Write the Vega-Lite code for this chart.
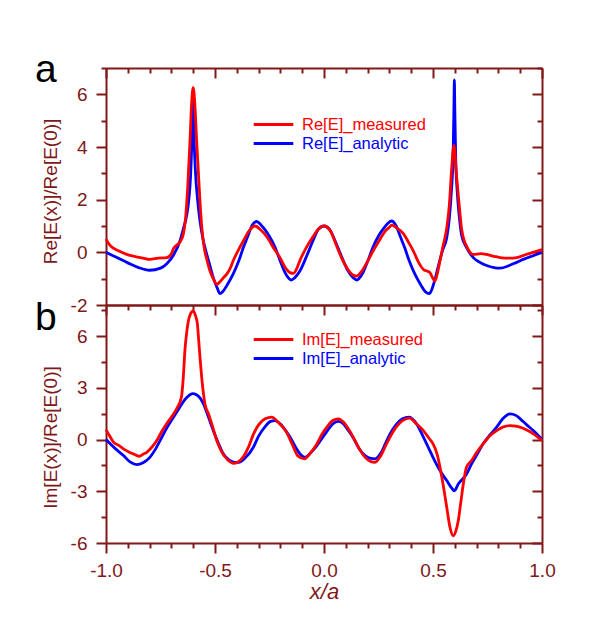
{
  "$schema": "https://vega.github.io/schema/vega-lite/v6.json",
  "description": "Re and Im of E(x)/Re[E(0)], measured vs analytic",
  "padding": {"left": 35, "top": 51, "right": 5, "bottom": 5},
  "spacing": 0,
  "bounds": "flush",
  "config": {
    "font": "Liberation Sans",
    "view": {"stroke": null},
    "axis": {
      "domainColor": "#801818",
      "domainWidth": 2,
      "tickColor": "#801818",
      "tickWidth": 2,
      "labelColor": "#801818",
      "titleColor": "#801818",
      "labelFontSize": 19,
      "titleFontSize": 19,
      "titleFontWeight": "normal",
      "grid": false,
      "labelOverlap": false,
      "labelFlush": false,
      "labelBound": false
    },
    "legend": {
      "orient": "none",
      "symbolType": "M-2.2,0H2.2",
      "symbolSize": 324,
      "symbolStrokeWidth": 2.8,
      "labelFontSize": 16.5,
      "labelOffset": 18,
      "rowPadding": 0,
      "padding": 0
    }
  },
  "datasets": {
    "re": [
      {"x": -1.0, "y": 0.0, "s": "Re[E]_analytic"},
      {"x": -0.95, "y": -0.2, "s": "Re[E]_analytic"},
      {"x": -0.9, "y": -0.4, "s": "Re[E]_analytic"},
      {"x": -0.85, "y": -0.58, "s": "Re[E]_analytic"},
      {"x": -0.8, "y": -0.68, "s": "Re[E]_analytic"},
      {"x": -0.75, "y": -0.6, "s": "Re[E]_analytic"},
      {"x": -0.72, "y": -0.42, "s": "Re[E]_analytic"},
      {"x": -0.69, "y": -0.1, "s": "Re[E]_analytic"},
      {"x": -0.66, "y": 0.45, "s": "Re[E]_analytic"},
      {"x": -0.645, "y": 0.9, "s": "Re[E]_analytic"},
      {"x": -0.63, "y": 1.4, "s": "Re[E]_analytic"},
      {"x": -0.62, "y": 2.0, "s": "Re[E]_analytic"},
      {"x": -0.612, "y": 2.9, "s": "Re[E]_analytic"},
      {"x": -0.606, "y": 4.3, "s": "Re[E]_analytic"},
      {"x": -0.601, "y": 6.1, "s": "Re[E]_analytic"},
      {"x": -0.596, "y": 4.3, "s": "Re[E]_analytic"},
      {"x": -0.59, "y": 3.1, "s": "Re[E]_analytic"},
      {"x": -0.58, "y": 2.0, "s": "Re[E]_analytic"},
      {"x": -0.569, "y": 1.2, "s": "Re[E]_analytic"},
      {"x": -0.555, "y": 0.5, "s": "Re[E]_analytic"},
      {"x": -0.545, "y": 0.15, "s": "Re[E]_analytic"},
      {"x": -0.525, "y": -0.45, "s": "Re[E]_analytic"},
      {"x": -0.508, "y": -0.96, "s": "Re[E]_analytic"},
      {"x": -0.49, "y": -1.35, "s": "Re[E]_analytic"},
      {"x": -0.477, "y": -1.57, "s": "Re[E]_analytic"},
      {"x": -0.465, "y": -1.5, "s": "Re[E]_analytic"},
      {"x": -0.445, "y": -1.25, "s": "Re[E]_analytic"},
      {"x": -0.417, "y": -0.83, "s": "Re[E]_analytic"},
      {"x": -0.39, "y": -0.3, "s": "Re[E]_analytic"},
      {"x": -0.37, "y": 0.18, "s": "Re[E]_analytic"},
      {"x": -0.35, "y": 0.6, "s": "Re[E]_analytic"},
      {"x": -0.33, "y": 1.02, "s": "Re[E]_analytic"},
      {"x": -0.309, "y": 1.17, "s": "Re[E]_analytic"},
      {"x": -0.29, "y": 1.05, "s": "Re[E]_analytic"},
      {"x": -0.27, "y": 0.85, "s": "Re[E]_analytic"},
      {"x": -0.25, "y": 0.6, "s": "Re[E]_analytic"},
      {"x": -0.225, "y": 0.2, "s": "Re[E]_analytic"},
      {"x": -0.2, "y": -0.35, "s": "Re[E]_analytic"},
      {"x": -0.18, "y": -0.75, "s": "Re[E]_analytic"},
      {"x": -0.16, "y": -1.0, "s": "Re[E]_analytic"},
      {"x": -0.15, "y": -1.05, "s": "Re[E]_analytic"},
      {"x": -0.135, "y": -0.97, "s": "Re[E]_analytic"},
      {"x": -0.11, "y": -0.7, "s": "Re[E]_analytic"},
      {"x": -0.08, "y": -0.15, "s": "Re[E]_analytic"},
      {"x": -0.05, "y": 0.45, "s": "Re[E]_analytic"},
      {"x": -0.025, "y": 0.88, "s": "Re[E]_analytic"},
      {"x": 0.0, "y": 1.0, "s": "Re[E]_analytic"},
      {"x": 0.025, "y": 0.88, "s": "Re[E]_analytic"},
      {"x": 0.05, "y": 0.45, "s": "Re[E]_analytic"},
      {"x": 0.08, "y": -0.15, "s": "Re[E]_analytic"},
      {"x": 0.11, "y": -0.7, "s": "Re[E]_analytic"},
      {"x": 0.135, "y": -0.97, "s": "Re[E]_analytic"},
      {"x": 0.15, "y": -1.05, "s": "Re[E]_analytic"},
      {"x": 0.16, "y": -1.0, "s": "Re[E]_analytic"},
      {"x": 0.18, "y": -0.75, "s": "Re[E]_analytic"},
      {"x": 0.2, "y": -0.35, "s": "Re[E]_analytic"},
      {"x": 0.225, "y": 0.2, "s": "Re[E]_analytic"},
      {"x": 0.25, "y": 0.62, "s": "Re[E]_analytic"},
      {"x": 0.27, "y": 0.87, "s": "Re[E]_analytic"},
      {"x": 0.29, "y": 1.08, "s": "Re[E]_analytic"},
      {"x": 0.31, "y": 1.19, "s": "Re[E]_analytic"},
      {"x": 0.33, "y": 1.02, "s": "Re[E]_analytic"},
      {"x": 0.35, "y": 0.6, "s": "Re[E]_analytic"},
      {"x": 0.37, "y": 0.18, "s": "Re[E]_analytic"},
      {"x": 0.39, "y": -0.3, "s": "Re[E]_analytic"},
      {"x": 0.417, "y": -0.83, "s": "Re[E]_analytic"},
      {"x": 0.445, "y": -1.25, "s": "Re[E]_analytic"},
      {"x": 0.465, "y": -1.5, "s": "Re[E]_analytic"},
      {"x": 0.483, "y": -1.57, "s": "Re[E]_analytic"},
      {"x": 0.495, "y": -1.4, "s": "Re[E]_analytic"},
      {"x": 0.51, "y": -1.0, "s": "Re[E]_analytic"},
      {"x": 0.525, "y": -0.5, "s": "Re[E]_analytic"},
      {"x": 0.545, "y": 0.1, "s": "Re[E]_analytic"},
      {"x": 0.563, "y": 0.55, "s": "Re[E]_analytic"},
      {"x": 0.575, "y": 1.3, "s": "Re[E]_analytic"},
      {"x": 0.585, "y": 2.4, "s": "Re[E]_analytic"},
      {"x": 0.592, "y": 3.6, "s": "Re[E]_analytic"},
      {"x": 0.596, "y": 5.5, "s": "Re[E]_analytic"},
      {"x": 0.598, "y": 6.55, "s": "Re[E]_analytic"},
      {"x": 0.6, "y": 5.5, "s": "Re[E]_analytic"},
      {"x": 0.604, "y": 3.6, "s": "Re[E]_analytic"},
      {"x": 0.612, "y": 2.2, "s": "Re[E]_analytic"},
      {"x": 0.62, "y": 1.4, "s": "Re[E]_analytic"},
      {"x": 0.631, "y": 0.66, "s": "Re[E]_analytic"},
      {"x": 0.654, "y": 0.18, "s": "Re[E]_analytic"},
      {"x": 0.685, "y": -0.2, "s": "Re[E]_analytic"},
      {"x": 0.715, "y": -0.38, "s": "Re[E]_analytic"},
      {"x": 0.746, "y": -0.5, "s": "Re[E]_analytic"},
      {"x": 0.78, "y": -0.58, "s": "Re[E]_analytic"},
      {"x": 0.807, "y": -0.6, "s": "Re[E]_analytic"},
      {"x": 0.85, "y": -0.5, "s": "Re[E]_analytic"},
      {"x": 0.884, "y": -0.38, "s": "Re[E]_analytic"},
      {"x": 0.92, "y": -0.25, "s": "Re[E]_analytic"},
      {"x": 0.959, "y": -0.13, "s": "Re[E]_analytic"},
      {"x": 1.0, "y": 0.0, "s": "Re[E]_analytic"},

      {"x": -1.0, "y": 0.5, "s": "Re[E]_measured"},
      {"x": -0.985, "y": 0.3, "s": "Re[E]_measured"},
      {"x": -0.968, "y": 0.17, "s": "Re[E]_measured"},
      {"x": -0.94, "y": 0.05, "s": "Re[E]_measured"},
      {"x": -0.905, "y": -0.08, "s": "Re[E]_measured"},
      {"x": -0.87, "y": -0.15, "s": "Re[E]_measured"},
      {"x": -0.83, "y": -0.22, "s": "Re[E]_measured"},
      {"x": -0.8, "y": -0.27, "s": "Re[E]_measured"},
      {"x": -0.76, "y": -0.22, "s": "Re[E]_measured"},
      {"x": -0.722, "y": -0.2, "s": "Re[E]_measured"},
      {"x": -0.7, "y": -0.05, "s": "Re[E]_measured"},
      {"x": -0.69, "y": 0.15, "s": "Re[E]_measured"},
      {"x": -0.675, "y": 0.28, "s": "Re[E]_measured"},
      {"x": -0.66, "y": 0.4, "s": "Re[E]_measured"},
      {"x": -0.645, "y": 0.7, "s": "Re[E]_measured"},
      {"x": -0.635, "y": 1.3, "s": "Re[E]_measured"},
      {"x": -0.625, "y": 2.5, "s": "Re[E]_measured"},
      {"x": -0.615, "y": 4.2, "s": "Re[E]_measured"},
      {"x": -0.607, "y": 5.7, "s": "Re[E]_measured"},
      {"x": -0.6, "y": 6.25, "s": "Re[E]_measured"},
      {"x": -0.593, "y": 5.7, "s": "Re[E]_measured"},
      {"x": -0.584, "y": 4.2, "s": "Re[E]_measured"},
      {"x": -0.576, "y": 3.0, "s": "Re[E]_measured"},
      {"x": -0.569, "y": 1.95, "s": "Re[E]_measured"},
      {"x": -0.56, "y": 0.9, "s": "Re[E]_measured"},
      {"x": -0.55, "y": 0.2, "s": "Re[E]_measured"},
      {"x": -0.535, "y": -0.35, "s": "Re[E]_measured"},
      {"x": -0.523, "y": -0.71, "s": "Re[E]_measured"},
      {"x": -0.505, "y": -1.05, "s": "Re[E]_measured"},
      {"x": -0.492, "y": -1.22, "s": "Re[E]_measured"},
      {"x": -0.475, "y": -1.1, "s": "Re[E]_measured"},
      {"x": -0.46, "y": -0.95, "s": "Re[E]_measured"},
      {"x": -0.446, "y": -0.83, "s": "Re[E]_measured"},
      {"x": -0.43, "y": -0.6, "s": "Re[E]_measured"},
      {"x": -0.417, "y": -0.33, "s": "Re[E]_measured"},
      {"x": -0.395, "y": 0.05, "s": "Re[E]_measured"},
      {"x": -0.37, "y": 0.43, "s": "Re[E]_measured"},
      {"x": -0.345, "y": 0.8, "s": "Re[E]_measured"},
      {"x": -0.316, "y": 1.0, "s": "Re[E]_measured"},
      {"x": -0.29, "y": 0.85, "s": "Re[E]_measured"},
      {"x": -0.263, "y": 0.6, "s": "Re[E]_measured"},
      {"x": -0.23, "y": 0.15, "s": "Re[E]_measured"},
      {"x": -0.202, "y": -0.2, "s": "Re[E]_measured"},
      {"x": -0.18, "y": -0.55, "s": "Re[E]_measured"},
      {"x": -0.156, "y": -0.77, "s": "Re[E]_measured"},
      {"x": -0.14, "y": -0.8, "s": "Re[E]_measured"},
      {"x": -0.125, "y": -0.62, "s": "Re[E]_measured"},
      {"x": -0.11, "y": -0.3, "s": "Re[E]_measured"},
      {"x": -0.08, "y": 0.2, "s": "Re[E]_measured"},
      {"x": -0.05, "y": 0.6, "s": "Re[E]_measured"},
      {"x": -0.025, "y": 0.9, "s": "Re[E]_measured"},
      {"x": 0.0, "y": 1.0, "s": "Re[E]_measured"},
      {"x": 0.03, "y": 0.8, "s": "Re[E]_measured"},
      {"x": 0.058, "y": 0.24, "s": "Re[E]_measured"},
      {"x": 0.08, "y": -0.2, "s": "Re[E]_measured"},
      {"x": 0.104, "y": -0.58, "s": "Re[E]_measured"},
      {"x": 0.13, "y": -0.85, "s": "Re[E]_measured"},
      {"x": 0.15, "y": -0.9, "s": "Re[E]_measured"},
      {"x": 0.17, "y": -0.75, "s": "Re[E]_measured"},
      {"x": 0.196, "y": -0.4, "s": "Re[E]_measured"},
      {"x": 0.225, "y": 0.05, "s": "Re[E]_measured"},
      {"x": 0.257, "y": 0.5, "s": "Re[E]_measured"},
      {"x": 0.28, "y": 0.8, "s": "Re[E]_measured"},
      {"x": 0.3, "y": 0.95, "s": "Re[E]_measured"},
      {"x": 0.31, "y": 1.03, "s": "Re[E]_measured"},
      {"x": 0.33, "y": 0.95, "s": "Re[E]_measured"},
      {"x": 0.364, "y": 0.71, "s": "Re[E]_measured"},
      {"x": 0.39, "y": 0.35, "s": "Re[E]_measured"},
      {"x": 0.41, "y": 0.05, "s": "Re[E]_measured"},
      {"x": 0.435, "y": -0.4, "s": "Re[E]_measured"},
      {"x": 0.456, "y": -0.65, "s": "Re[E]_measured"},
      {"x": 0.475, "y": -0.72, "s": "Re[E]_measured"},
      {"x": 0.486, "y": -0.77, "s": "Re[E]_measured"},
      {"x": 0.497, "y": -0.95, "s": "Re[E]_measured"},
      {"x": 0.509, "y": -1.09, "s": "Re[E]_measured"},
      {"x": 0.52, "y": -0.8, "s": "Re[E]_measured"},
      {"x": 0.532, "y": -0.33, "s": "Re[E]_measured"},
      {"x": 0.545, "y": 0.2, "s": "Re[E]_measured"},
      {"x": 0.563, "y": 0.93, "s": "Re[E]_measured"},
      {"x": 0.575, "y": 1.8, "s": "Re[E]_measured"},
      {"x": 0.585, "y": 3.1, "s": "Re[E]_measured"},
      {"x": 0.596, "y": 4.07, "s": "Re[E]_measured"},
      {"x": 0.608, "y": 2.9, "s": "Re[E]_measured"},
      {"x": 0.62, "y": 1.8, "s": "Re[E]_measured"},
      {"x": 0.631, "y": 0.9, "s": "Re[E]_measured"},
      {"x": 0.645, "y": 0.4, "s": "Re[E]_measured"},
      {"x": 0.654, "y": 0.24, "s": "Re[E]_measured"},
      {"x": 0.67, "y": 0.0, "s": "Re[E]_measured"},
      {"x": 0.685, "y": -0.08, "s": "Re[E]_measured"},
      {"x": 0.72, "y": -0.05, "s": "Re[E]_measured"},
      {"x": 0.746, "y": -0.08, "s": "Re[E]_measured"},
      {"x": 0.78, "y": -0.15, "s": "Re[E]_measured"},
      {"x": 0.807, "y": -0.2, "s": "Re[E]_measured"},
      {"x": 0.85, "y": -0.22, "s": "Re[E]_measured"},
      {"x": 0.884, "y": -0.2, "s": "Re[E]_measured"},
      {"x": 0.92, "y": -0.1, "s": "Re[E]_measured"},
      {"x": 0.959, "y": 0.0, "s": "Re[E]_measured"},
      {"x": 1.0, "y": 0.1, "s": "Re[E]_measured"}
    ],
    "im": [
      {"x": -1.0, "y": 0.0, "s": "Im[E]_analytic"},
      {"x": -0.96, "y": -0.5, "s": "Im[E]_analytic"},
      {"x": -0.92, "y": -0.93, "s": "Im[E]_analytic"},
      {"x": -0.89, "y": -1.3, "s": "Im[E]_analytic"},
      {"x": -0.86, "y": -1.45, "s": "Im[E]_analytic"},
      {"x": -0.83, "y": -1.35, "s": "Im[E]_analytic"},
      {"x": -0.8, "y": -1.05, "s": "Im[E]_analytic"},
      {"x": -0.775, "y": -0.6, "s": "Im[E]_analytic"},
      {"x": -0.752, "y": -0.06, "s": "Im[E]_analytic"},
      {"x": -0.72, "y": 0.7, "s": "Im[E]_analytic"},
      {"x": -0.69, "y": 1.3, "s": "Im[E]_analytic"},
      {"x": -0.665, "y": 1.8, "s": "Im[E]_analytic"},
      {"x": -0.641, "y": 2.27, "s": "Im[E]_analytic"},
      {"x": -0.62, "y": 2.55, "s": "Im[E]_analytic"},
      {"x": -0.603, "y": 2.66, "s": "Im[E]_analytic"},
      {"x": -0.585, "y": 2.6, "s": "Im[E]_analytic"},
      {"x": -0.568, "y": 2.4, "s": "Im[E]_analytic"},
      {"x": -0.553, "y": 2.07, "s": "Im[E]_analytic"},
      {"x": -0.53, "y": 1.3, "s": "Im[E]_analytic"},
      {"x": -0.508, "y": 0.52, "s": "Im[E]_analytic"},
      {"x": -0.485, "y": -0.2, "s": "Im[E]_analytic"},
      {"x": -0.462, "y": -0.83, "s": "Im[E]_analytic"},
      {"x": -0.435, "y": -1.2, "s": "Im[E]_analytic"},
      {"x": -0.41, "y": -1.32, "s": "Im[E]_analytic"},
      {"x": -0.389, "y": -1.32, "s": "Im[E]_analytic"},
      {"x": -0.36, "y": -1.05, "s": "Im[E]_analytic"},
      {"x": -0.324, "y": -0.45, "s": "Im[E]_analytic"},
      {"x": -0.3, "y": 0.2, "s": "Im[E]_analytic"},
      {"x": -0.27, "y": 0.75, "s": "Im[E]_analytic"},
      {"x": -0.245, "y": 1.05, "s": "Im[E]_analytic"},
      {"x": -0.225, "y": 1.1, "s": "Im[E]_analytic"},
      {"x": -0.2, "y": 0.9, "s": "Im[E]_analytic"},
      {"x": -0.175, "y": 0.5, "s": "Im[E]_analytic"},
      {"x": -0.156, "y": 0.14, "s": "Im[E]_analytic"},
      {"x": -0.13, "y": -0.45, "s": "Im[E]_analytic"},
      {"x": -0.11, "y": -0.83, "s": "Im[E]_analytic"},
      {"x": -0.087, "y": -1.03, "s": "Im[E]_analytic"},
      {"x": -0.06, "y": -0.75, "s": "Im[E]_analytic"},
      {"x": -0.035, "y": -0.4, "s": "Im[E]_analytic"},
      {"x": -0.01, "y": 0.05, "s": "Im[E]_analytic"},
      {"x": 0.015, "y": 0.5, "s": "Im[E]_analytic"},
      {"x": 0.04, "y": 0.9, "s": "Im[E]_analytic"},
      {"x": 0.066, "y": 1.05, "s": "Im[E]_analytic"},
      {"x": 0.09, "y": 0.9, "s": "Im[E]_analytic"},
      {"x": 0.11, "y": 0.55, "s": "Im[E]_analytic"},
      {"x": 0.134, "y": 0.1, "s": "Im[E]_analytic"},
      {"x": 0.16, "y": -0.5, "s": "Im[E]_analytic"},
      {"x": 0.19, "y": -0.95, "s": "Im[E]_analytic"},
      {"x": 0.215, "y": -1.1, "s": "Im[E]_analytic"},
      {"x": 0.234, "y": -1.12, "s": "Im[E]_analytic"},
      {"x": 0.26, "y": -0.8, "s": "Im[E]_analytic"},
      {"x": 0.283, "y": -0.2, "s": "Im[E]_analytic"},
      {"x": 0.303, "y": 0.33, "s": "Im[E]_analytic"},
      {"x": 0.33, "y": 0.85, "s": "Im[E]_analytic"},
      {"x": 0.36, "y": 1.2, "s": "Im[E]_analytic"},
      {"x": 0.39, "y": 1.3, "s": "Im[E]_analytic"},
      {"x": 0.42, "y": 1.0, "s": "Im[E]_analytic"},
      {"x": 0.456, "y": 0.14, "s": "Im[E]_analytic"},
      {"x": 0.48, "y": -0.5, "s": "Im[E]_analytic"},
      {"x": 0.5, "y": -1.03, "s": "Im[E]_analytic"},
      {"x": 0.532, "y": -1.8, "s": "Im[E]_analytic"},
      {"x": 0.563, "y": -2.38, "s": "Im[E]_analytic"},
      {"x": 0.585, "y": -2.8, "s": "Im[E]_analytic"},
      {"x": 0.598, "y": -2.97, "s": "Im[E]_analytic"},
      {"x": 0.616, "y": -2.58, "s": "Im[E]_analytic"},
      {"x": 0.654, "y": -2.0, "s": "Im[E]_analytic"},
      {"x": 0.677, "y": -1.41, "s": "Im[E]_analytic"},
      {"x": 0.705, "y": -0.8, "s": "Im[E]_analytic"},
      {"x": 0.73, "y": -0.25, "s": "Im[E]_analytic"},
      {"x": 0.76, "y": 0.25, "s": "Im[E]_analytic"},
      {"x": 0.792, "y": 0.72, "s": "Im[E]_analytic"},
      {"x": 0.82, "y": 1.2, "s": "Im[E]_analytic"},
      {"x": 0.853, "y": 1.49, "s": "Im[E]_analytic"},
      {"x": 0.88, "y": 1.4, "s": "Im[E]_analytic"},
      {"x": 0.9, "y": 1.2, "s": "Im[E]_analytic"},
      {"x": 0.93, "y": 0.85, "s": "Im[E]_analytic"},
      {"x": 0.96, "y": 0.52, "s": "Im[E]_analytic"},
      {"x": 1.0, "y": 0.0, "s": "Im[E]_analytic"},

      {"x": -1.0, "y": 0.56, "s": "Im[E]_measured"},
      {"x": -0.985, "y": 0.25, "s": "Im[E]_measured"},
      {"x": -0.966, "y": -0.15, "s": "Im[E]_measured"},
      {"x": -0.94, "y": -0.35, "s": "Im[E]_measured"},
      {"x": -0.92, "y": -0.54, "s": "Im[E]_measured"},
      {"x": -0.895, "y": -0.72, "s": "Im[E]_measured"},
      {"x": -0.875, "y": -0.83, "s": "Im[E]_measured"},
      {"x": -0.847, "y": -0.97, "s": "Im[E]_measured"},
      {"x": -0.83, "y": -0.85, "s": "Im[E]_measured"},
      {"x": -0.813, "y": -0.74, "s": "Im[E]_measured"},
      {"x": -0.79, "y": -0.45, "s": "Im[E]_measured"},
      {"x": -0.767, "y": -0.06, "s": "Im[E]_measured"},
      {"x": -0.745, "y": 0.45, "s": "Im[E]_measured"},
      {"x": -0.722, "y": 0.91, "s": "Im[E]_measured"},
      {"x": -0.7, "y": 1.3, "s": "Im[E]_measured"},
      {"x": -0.676, "y": 1.78, "s": "Im[E]_measured"},
      {"x": -0.654, "y": 2.46, "s": "Im[E]_measured"},
      {"x": -0.646, "y": 3.5, "s": "Im[E]_measured"},
      {"x": -0.638, "y": 5.17, "s": "Im[E]_measured"},
      {"x": -0.63, "y": 6.2, "s": "Im[E]_measured"},
      {"x": -0.623, "y": 6.82, "s": "Im[E]_measured"},
      {"x": -0.612, "y": 7.3, "s": "Im[E]_measured"},
      {"x": -0.6, "y": 7.46, "s": "Im[E]_measured"},
      {"x": -0.59, "y": 7.2, "s": "Im[E]_measured"},
      {"x": -0.581, "y": 6.72, "s": "Im[E]_measured"},
      {"x": -0.575, "y": 5.8, "s": "Im[E]_measured"},
      {"x": -0.569, "y": 4.79, "s": "Im[E]_measured"},
      {"x": -0.561, "y": 3.6, "s": "Im[E]_measured"},
      {"x": -0.553, "y": 2.66, "s": "Im[E]_measured"},
      {"x": -0.545, "y": 2.0, "s": "Im[E]_measured"},
      {"x": -0.53, "y": 1.49, "s": "Im[E]_measured"},
      {"x": -0.51, "y": 0.7, "s": "Im[E]_measured"},
      {"x": -0.492, "y": -0.06, "s": "Im[E]_measured"},
      {"x": -0.47, "y": -0.7, "s": "Im[E]_measured"},
      {"x": -0.446, "y": -1.12, "s": "Im[E]_measured"},
      {"x": -0.43, "y": -1.3, "s": "Im[E]_measured"},
      {"x": -0.416, "y": -1.38, "s": "Im[E]_measured"},
      {"x": -0.395, "y": -1.3, "s": "Im[E]_measured"},
      {"x": -0.37, "y": -1.0, "s": "Im[E]_measured"},
      {"x": -0.345, "y": -0.4, "s": "Im[E]_measured"},
      {"x": -0.324, "y": 0.3, "s": "Im[E]_measured"},
      {"x": -0.3, "y": 0.85, "s": "Im[E]_measured"},
      {"x": -0.27, "y": 1.2, "s": "Im[E]_measured"},
      {"x": -0.24, "y": 1.3, "s": "Im[E]_measured"},
      {"x": -0.21, "y": 1.0, "s": "Im[E]_measured"},
      {"x": -0.173, "y": 0.45, "s": "Im[E]_measured"},
      {"x": -0.145, "y": -0.3, "s": "Im[E]_measured"},
      {"x": -0.12, "y": -0.95, "s": "Im[E]_measured"},
      {"x": -0.09, "y": -1.12, "s": "Im[E]_measured"},
      {"x": -0.06, "y": -0.75, "s": "Im[E]_measured"},
      {"x": -0.035, "y": -0.3, "s": "Im[E]_measured"},
      {"x": -0.01, "y": 0.3, "s": "Im[E]_measured"},
      {"x": 0.015, "y": 0.75, "s": "Im[E]_measured"},
      {"x": 0.04, "y": 1.1, "s": "Im[E]_measured"},
      {"x": 0.066, "y": 1.2, "s": "Im[E]_measured"},
      {"x": 0.09, "y": 1.0, "s": "Im[E]_measured"},
      {"x": 0.11, "y": 0.65, "s": "Im[E]_measured"},
      {"x": 0.134, "y": 0.14, "s": "Im[E]_measured"},
      {"x": 0.16, "y": -0.5, "s": "Im[E]_measured"},
      {"x": 0.19, "y": -1.05, "s": "Im[E]_measured"},
      {"x": 0.215, "y": -1.28, "s": "Im[E]_measured"},
      {"x": 0.234, "y": -1.32, "s": "Im[E]_measured"},
      {"x": 0.26, "y": -0.95, "s": "Im[E]_measured"},
      {"x": 0.283, "y": -0.35, "s": "Im[E]_measured"},
      {"x": 0.303, "y": 0.14, "s": "Im[E]_measured"},
      {"x": 0.33, "y": 0.7, "s": "Im[E]_measured"},
      {"x": 0.36, "y": 1.1, "s": "Im[E]_measured"},
      {"x": 0.394, "y": 1.24, "s": "Im[E]_measured"},
      {"x": 0.42, "y": 0.95, "s": "Im[E]_measured"},
      {"x": 0.456, "y": 0.52, "s": "Im[E]_measured"},
      {"x": 0.48, "y": 0.1, "s": "Im[E]_measured"},
      {"x": 0.5, "y": -0.25, "s": "Im[E]_measured"},
      {"x": 0.52, "y": -0.9, "s": "Im[E]_measured"},
      {"x": 0.532, "y": -1.6, "s": "Im[E]_measured"},
      {"x": 0.545, "y": -2.5, "s": "Im[E]_measured"},
      {"x": 0.563, "y": -3.93, "s": "Im[E]_measured"},
      {"x": 0.578, "y": -5.1, "s": "Im[E]_measured"},
      {"x": 0.593, "y": -5.58, "s": "Im[E]_measured"},
      {"x": 0.605, "y": -5.3, "s": "Im[E]_measured"},
      {"x": 0.616, "y": -4.7, "s": "Im[E]_measured"},
      {"x": 0.628, "y": -3.6, "s": "Im[E]_measured"},
      {"x": 0.639, "y": -2.58, "s": "Im[E]_measured"},
      {"x": 0.654, "y": -1.6, "s": "Im[E]_measured"},
      {"x": 0.677, "y": -1.22, "s": "Im[E]_measured"},
      {"x": 0.7, "y": -0.75, "s": "Im[E]_measured"},
      {"x": 0.73, "y": -0.25, "s": "Im[E]_measured"},
      {"x": 0.76, "y": 0.2, "s": "Im[E]_measured"},
      {"x": 0.792, "y": 0.52, "s": "Im[E]_measured"},
      {"x": 0.82, "y": 0.72, "s": "Im[E]_measured"},
      {"x": 0.853, "y": 0.81, "s": "Im[E]_measured"},
      {"x": 0.88, "y": 0.78, "s": "Im[E]_measured"},
      {"x": 0.899, "y": 0.72, "s": "Im[E]_measured"},
      {"x": 0.93, "y": 0.55, "s": "Im[E]_measured"},
      {"x": 0.96, "y": 0.33, "s": "Im[E]_measured"},
      {"x": 1.0, "y": -0.06, "s": "Im[E]_measured"}
    ]
  },
  "vconcat": [
    {
      "width": 436,
      "height": 237,
      "title": {
        "text": "a",
        "anchor": "start",
        "frame": "group",
        "offset": -38,
        "dx": -71,
        "dy": 16,
        "baseline": "alphabetic",
        "fontSize": 39,
        "fontWeight": "normal",
        "color": "black"
      },
      "data": {"name": "re"},
      "layer": [
        {
          "mark": {"type": "line", "strokeWidth": 2.8, "interpolate": "monotone"},
          "encoding": {
            "x": {
              "field": "x",
              "type": "quantitative",
              "scale": {"domain": [-1, 1], "nice": false, "zero": false},
              "axis": {"orient": "bottom", "ticks": false, "labels": false, "title": null}
            },
            "y": {
              "field": "y",
              "type": "quantitative",
              "scale": {"domain": [-2, 7], "nice": false, "zero": false},
              "axis": {
                "orient": "left",
                "values": [-2, 0, 2, 4, 6],
                "format": "d",
                "labelExpr": "replace(datum.label, '−', '-')",
                "tickSize": 10,
                "labelPadding": 9,
                "titlePadding": 10,
                "titleY": 123,
                "title": "Re[E(x)]/Re[E(0)]"
              }
            },
            "color": {
              "field": "s",
              "type": "nominal",
              "scale": {"domain": ["Re[E]_measured", "Re[E]_analytic"], "range": ["#ff0000", "#0000ff"]},
              "legend": {
                "title": null,
                "orient": "none",
                "legendX": 157,
                "legendY": 46,
                "encode": {"labels": {"update": {"fill": {"signal": "indexof(datum.label, 'measured') >= 0 ? '#ff0000' : '#0000ff'"}}}}
              }
            }
          }
        },
        {
          "mark": {"type": "point", "opacity": 0},
          "encoding": {
            "x": {
              "field": "x",
              "type": "quantitative",
              "axis": {
                "orient": "top",
                "values": [-1, -0.9, -0.8, -0.7, -0.6, -0.5, -0.4, -0.3, -0.2, -0.1, 0, 0.1, 0.2, 0.3, 0.4, 0.5, 0.6, 0.7, 0.8, 0.9, 1],
                "labels": false,
                "title": null,
                "tickSize": {"condition": {"test": "round(datum.value * 10) % 5 == 0", "value": -10}, "value": -5}
              }
            },
            "y": {
              "field": "y",
              "type": "quantitative",
              "axis": {
                "orient": "right",
                "values": [-2, -1, 0, 1, 2, 3, 4, 5, 6, 7],
                "labels": false,
                "title": null,
                "tickSize": {"condition": {"test": "datum.value % 2 == 0", "value": -10}, "value": -5}
              }
            }
          }
        },
        {
          "mark": {"type": "point", "opacity": 0},
          "encoding": {
            "x": {"field": "x", "type": "quantitative", "axis": null},
            "y": {
              "field": "y",
              "type": "quantitative",
              "axis": {
                "orient": "left",
                "values": [-1, 1, 3, 5, 7],
                "domain": false,
                "labels": false,
                "title": null,
                "tickSize": 5
              }
            }
          }
        }
      ],
      "resolve": {"axis": {"x": "independent", "y": "independent"}}
    },
    {
      "width": 436,
      "height": 238,
      "title": {
        "text": "b",
        "anchor": "start",
        "frame": "group",
        "offset": -38,
        "dx": -71,
        "dy": 27,
        "baseline": "alphabetic",
        "fontSize": 39,
        "fontWeight": "normal",
        "color": "black"
      },
      "data": {"name": "im"},
      "layer": [
        {
          "mark": {"type": "line", "strokeWidth": 2.8, "interpolate": "monotone"},
          "encoding": {
            "x": {
              "field": "x",
              "type": "quantitative",
              "scale": {"domain": [-1, 1], "nice": false, "zero": false},
              "axis": {
                "orient": "bottom",
                "values": [-1, -0.5, 0, 0.5, 1],
                "format": ".1f",
                "labelExpr": "replace(datum.label, '−', '-')",
                "tickSize": 10,
                "labelPadding": 8,
                "title": "x/a",
                "titleFontStyle": "italic",
                "titleFontSize": 22,
                "titlePadding": 1
              }
            },
            "y": {
              "field": "y",
              "type": "quantitative",
              "scale": {"domain": [-6, 7.8], "nice": false, "zero": false},
              "axis": {
                "orient": "left",
                "values": [-6, -3, 0, 3, 6],
                "format": "d",
                "labelExpr": "replace(datum.label, '−', '-')",
                "tickSize": 10,
                "labelPadding": 9,
                "titlePadding": 10,
                "titleY": 132,
                "title": "Im[E(x)]/Re[E(0)]"
              }
            },
            "color": {
              "field": "s",
              "type": "nominal",
              "scale": {"domain": ["Im[E]_measured", "Im[E]_analytic"], "range": ["#ff0000", "#0000ff"]},
              "legend": {
                "title": null,
                "orient": "none",
                "legendX": 157,
                "legendY": 24,
                "encode": {"labels": {"update": {"fill": {"signal": "indexof(datum.label, 'measured') >= 0 ? '#ff0000' : '#0000ff'"}}}}
              }
            }
          }
        },
        {
          "mark": {"type": "point", "opacity": 0},
          "encoding": {
            "x": {
              "field": "x",
              "type": "quantitative",
              "axis": {
                "orient": "top",
                "values": [-1, -0.9, -0.8, -0.7, -0.6, -0.5, -0.4, -0.3, -0.2, -0.1, 0, 0.1, 0.2, 0.3, 0.4, 0.5, 0.6, 0.7, 0.8, 0.9, 1],
                "labels": false,
                "title": null,
                "tickSize": {"condition": {"test": "round(datum.value * 10) % 5 == 0", "value": -10}, "value": -5}
              }
            },
            "y": {
              "field": "y",
              "type": "quantitative",
              "axis": {
                "orient": "right",
                "values": [-6, -4.5, -3, -1.5, 0, 1.5, 3, 4.5, 6, 7.5],
                "labels": false,
                "title": null,
                "tickSize": {"condition": {"test": "round(datum.value * 2) % 6 == 0", "value": -10}, "value": -5}
              }
            }
          }
        },
        {
          "mark": {"type": "point", "opacity": 0},
          "encoding": {
            "x": {
              "field": "x",
              "type": "quantitative",
              "axis": {
                "orient": "bottom",
                "values": [-0.9, -0.8, -0.7, -0.6, -0.4, -0.3, -0.2, -0.1, 0.1, 0.2, 0.3, 0.4, 0.6, 0.7, 0.8, 0.9],
                "domain": false,
                "labels": false,
                "title": null,
                "tickSize": 5
              }
            },
            "y": {
              "field": "y",
              "type": "quantitative",
              "axis": {
                "orient": "left",
                "values": [-4.5, -1.5, 1.5, 4.5, 7.5],
                "domain": false,
                "labels": false,
                "title": null,
                "tickSize": 5
              }
            }
          }
        }
      ],
      "resolve": {"axis": {"x": "independent", "y": "independent"}}
    }
  ],
  "resolve": {"scale": {"color": "independent"}, "legend": {"color": "independent"}}
}
